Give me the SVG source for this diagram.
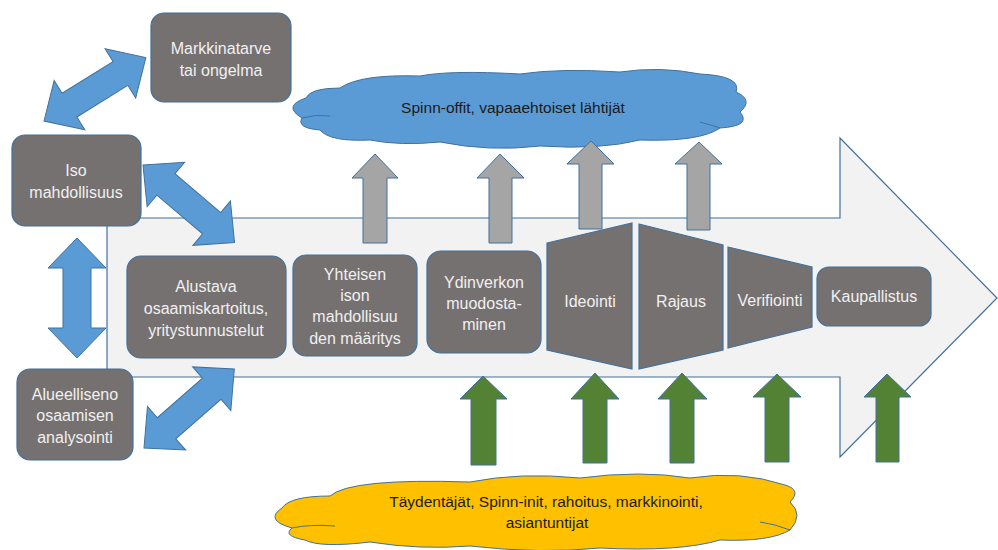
<svg xmlns="http://www.w3.org/2000/svg" xmlns:xlink="http://www.w3.org/1999/xlink" width="998" height="550" viewBox="0 0 998 550">
<style>
.box{fill:#767171;stroke:#41719c;stroke-width:1.2}
.lbl{font-family:"Liberation Sans",Arial,sans-serif;font-size:16px;fill:#f0f0f0;text-anchor:middle}
.dark{font-family:"Liberation Sans",Arial,sans-serif;font-size:15.5px;fill:#1a1a1a;text-anchor:middle}
.blue{fill:#5b9bd5;stroke:#41719c;stroke-width:1}
.gray{fill:#a5a5a5;stroke:#41719c;stroke-width:1}
.green{fill:#548235;stroke:#41719c;stroke-width:1}
.seam{fill:none;stroke:#41719c;stroke-width:1}
</style>
<defs>
<path id="dbl" d="M0,0 L30,-29 L30,-14 L90,-14 L90,-29 L120,0 L90,29 L90,14 L30,14 L30,29 Z"/>
</defs>
<rect width="998" height="550" fill="#ffffff"/>
<g id="process-arrow">
<path d="M107,218 L840,218 L840,138 L997,298 L840,457 L840,377 L107,377 Z" fill="#f2f2f2" stroke="#41719c" stroke-width="1.2"/>
</g>
<g id="cloud-top">
<path d="M320,130 Q296,128 302,118 Q282,106 306,98 Q310,88 340,88 Q360,74 420,76 Q450,70 520,74 Q560,68 620,72 Q660,66 700,74 Q742,76 736,92 Q754,100 740,112 Q752,126 720,128 Q700,142 640,140 Q600,150 540,146 Q490,152 440,142 Q400,146 370,140 Q330,142 320,130 Z" fill="#5b9bd5" stroke="#41719c" stroke-width="1"/>
<path class="seam" d="M302,118 Q315,114 330,116 M720,128 Q708,124 700,122"/>
<text class="dark" x="513" y="113">Spinn-offit, vapaaehtoiset lähtijät</text>
</g>
<g id="cloud-bottom">
<path d="M305,540 Q282,536 292,528 Q264,520 282,508 Q290,496 330,496 Q350,478 470,482 Q520,472 580,478 Q640,470 690,478 Q740,470 785,485 Q802,490 790,502 Q804,515 790,530 Q770,542 720,540 Q680,552 600,548 Q540,554 470,546 Q420,550 370,542 Q320,548 305,540 Z" fill="#ffc000" stroke="#41719c" stroke-width="1"/>
<path class="seam" d="M292,528 Q310,524 335,526 M790,530 Q775,524 760,522"/>
<text class="dark" x="546" y="507">Täydentäjät, Spinn-init, rahoitus, markkinointi,</text>
<text class="dark" x="547" y="528">asiantuntijat</text>
</g>
<g id="connectors">
<use xlink:href="#dbl" class="blue" transform="translate(44,121) rotate(-31.9)"/>
<use xlink:href="#dbl" class="blue" transform="translate(143,165) rotate(40.3)"/>
<use xlink:href="#dbl" class="blue" transform="translate(77,238) rotate(90)"/>
<use xlink:href="#dbl" class="blue" transform="translate(144,448) rotate(-41.2)"/>
<path class="gray" d="M375,154 L398,178 L387,178 L387,243 L363,243 L363,178 L352,178 Z"/>
<path class="gray" d="M500,154 L524,178 L512,178 L512,243 L489,243 L489,178 L477,178 Z"/>
<path class="gray" d="M591,141 L614,164 L602,164 L602,229 L579,229 L579,164 L567,164 Z"/>
<path class="gray" d="M699,142 L722,164 L710,164 L710,230 L687,230 L687,164 L675,164 Z"/>
<path class="green" d="M483,376 L507,399 L496,399 L496,465 L471,465 L471,399 L460,399 Z"/>
<path class="green" d="M595,373 L619,399 L607,399 L607,463 L583,463 L583,399 L571,399 Z"/>
<path class="green" d="M682,373 L707,399 L694,399 L694,463 L670,463 L670,399 L658,399 Z"/>
<path class="green" d="M777,374 L801,397 L789,397 L789,462 L765,462 L765,397 L753,397 Z"/>
<path class="green" d="M887,374 L911,397 L899,397 L899,462 L876,462 L876,397 L864,397 Z"/>
</g>
<g id="markkinatarve">
<rect class="box" x="151" y="13" width="140" height="89" rx="13"/>
<text class="lbl" x="221" y="54">Markkinatarve</text>
<text class="lbl" x="221" y="76">tai ongelma</text>
</g>
<g id="iso-mahdollisuus">
<rect class="box" x="12" y="135" width="129" height="91" rx="13"/>
<text class="lbl" x="76" y="176">Iso</text>
<text class="lbl" x="76" y="198">mahdollisuus</text>
</g>
<g id="alueellinen">
<rect class="box" x="17" y="369" width="116" height="91" rx="13"/>
<text class="lbl" x="75" y="400">Alueelliseno</text>
<text class="lbl" x="75" y="421">osaamisen</text>
<text class="lbl" x="75" y="443">analysointi</text>
</g>
<g id="alustava">
<rect class="box" x="127" y="256" width="159" height="102" rx="14"/>
<text class="lbl" x="206" y="292">Alustava</text>
<text class="lbl" x="206" y="314">osaamiskartoitus,</text>
<text class="lbl" x="206" y="336">yritystunnustelut</text>
</g>
<g id="yhteisen">
<rect class="box" x="293" y="255" width="124" height="101" rx="13"/>
<text class="lbl" x="355" y="280">Yhteisen</text>
<text class="lbl" x="355" y="301">ison</text>
<text class="lbl" x="355" y="322">mahdollisuu</text>
<text class="lbl" x="355" y="344">den määritys</text>
</g>
<g id="ydinverkon">
<rect class="box" x="427" y="251" width="114" height="102" rx="14"/>
<text class="lbl" x="484" y="288">Ydinverkon</text>
<text class="lbl" x="484" y="309">muodosta-</text>
<text class="lbl" x="484" y="330">minen</text>
</g>
<g id="ideointi">
<path class="box" d="M547,243 L632,223 L632,369 L547,350 Z"/>
<text class="lbl" x="590" y="307">Ideointi</text>
</g>
<g id="rajaus">
<path class="box" d="M639,224 L723,245 L723,350 L639,369 Z"/>
<text class="lbl" x="681" y="307">Rajaus</text>
</g>
<g id="verifiointi">
<path class="box" d="M728,247 L812,267 L812,327 L728,348 Z"/>
<text class="lbl" x="770" y="306">Verifiointi</text>
</g>
<g id="kaupallistus">
<rect class="box" x="817" y="267" width="114" height="59" rx="12"/>
<text class="lbl" x="874" y="302">Kaupallistus</text>
</g>
</svg>
